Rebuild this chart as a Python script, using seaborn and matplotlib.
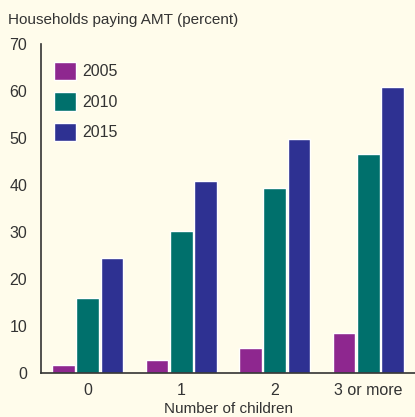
import pandas as pd
import numpy as np
import seaborn as sns
import matplotlib.pyplot as plt
from matplotlib.ticker import FixedLocator, NullFormatter

# data
children = ['0', '1', '2', '3 or more']
years = ['2005', '2010', '2015']
pct_2005 = [1.8, 2.7, 5.3, 8.5]
pct_2010 = [16.0, 30.2, 39.4, 46.6]
pct_2015 = [24.5, 40.9, 49.8, 60.8]

colors = ['#8E278F', '#00706C', '#2E3192']
bg = '#FFFCEB'
ink = '#333333'

df = pd.DataFrame({
    'children': children * 3,
    'year': [y for y in years for _ in children],
    'pct': pct_2005 + pct_2010 + pct_2015,
})

sns.set_style('white')
plt.rcParams['font.family'] = ['Liberation Sans', 'DejaVu Sans']

fig = plt.figure(figsize=(4.15, 4.17), dpi=100, facecolor=bg)
ax = fig.add_axes([41 / 415, 1 - 373 / 417, 1 - 41 / 415, 329 / 417])
ax.set_facecolor(bg)

sns.barplot(data=df, x='children', y='pct', hue='year', palette=colors,
            width=0.78, gap=0.07, saturation=1, ax=ax)

ax.set_ylim(0, 70)
ax.set_xlim(-0.5, 3.5)
ax.set_yticks(range(0, 71, 10))
ax.tick_params(axis='y', length=7, width=1.2, color=ink, labelsize=11.5,
               labelcolor=ink, pad=3)

# ticks between groups, labels in the middle
ax.xaxis.set_major_locator(FixedLocator([-0.5, 0.5, 1.5, 2.5]))
ax.xaxis.set_major_formatter(NullFormatter())
ax.xaxis.set_minor_locator(FixedLocator([0, 1, 2, 3]))
ax.set_xticklabels(children, minor=True)
ax.tick_params(axis='x', which='major', length=7, width=1.2, color=ink)
ax.tick_params(axis='x', which='minor', length=0, labelsize=11.5,
               labelcolor=ink, pad=7)

for side in ['top', 'right']:
    ax.spines[side].set_visible(False)
for side in ['left', 'bottom']:
    ax.spines[side].set_color(ink)
    ax.spines[side].set_linewidth(1.2)

ax.set_xlabel('Number of children', fontsize=11, color=ink, labelpad=3)
ax.set_ylabel('')
fig.text(8 / 415, 1 - 20 / 417, 'Households paying AMT (percent)',
         fontsize=11, color=ink, va='center', ha='left')

leg = ax.legend(loc='upper left', bbox_to_anchor=(-0.005, 0.99), frameon=False,
                fontsize=11.5, handlelength=1.4, handleheight=1.4,
                labelspacing=0.75, handletextpad=0.4, labelcolor=ink)

plt.savefig('out.png', dpi=100, facecolor=bg)
